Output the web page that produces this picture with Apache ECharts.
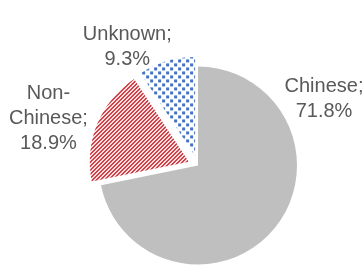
<!DOCTYPE html>
<html>
<head>
<meta charset="utf-8">
<script src="https://cdn.jsdelivr.net/npm/echarts@6/dist/echarts.min.js"></script>
<style>
html,body{margin:0;padding:0;background:#fff;}
#chart{width:364px;height:266px;}
</style>
</head>
<body>
<div id="chart"></div>
<script>
// Data
const categories = ['Chinese', 'Non-Chinese', 'Unknown'];
const values = [71.8, 18.9, 9.3];
const exploded = [false, true, true];

// Label placement (style only)
const labelPos = [
  {x: 324, y: 99},
  {x: 48, y: 107},
  {x: 145, y: 34}
];

function stripePattern() {
  const c = document.createElement('canvas');
  c.width = 8; c.height = 8;
  const g = c.getContext('2d');
  g.fillStyle = '#ffffff';
  g.fillRect(0, 0, 8, 8);
  g.fillStyle = '#C8202A';
  for (let y = 0; y < 8; y++) {
    for (let x = 0; x < 8; x++) {
      if (((x + y) % 4) < 2) g.fillRect(x, y, 1, 1);
    }
  }
  return c;
}
function dotPattern() {
  const c = document.createElement('canvas');
  c.width = 8; c.height = 8;
  const g = c.getContext('2d');
  g.fillStyle = '#ffffff';
  g.fillRect(0, 0, 8, 8);
  g.fillStyle = '#4472C4';
  g.fillRect(1, 1, 3, 3);
  g.fillRect(5, 5, 3, 3);
  return c;
}

const colors = [
  '#BFBFBF',
  {image: stripePattern(), repeat: 'repeat'},
  {image: dotPattern(), repeat: 'repeat'}
];

const chart = echarts.init(document.getElementById('chart'), null, {renderer: 'canvas'});
chart.setOption({
  animation: false,
  series: [{
    type: 'pie',
    center: [198, 165.5],
    radius: 99,
    startAngle: 90,
    clockwise: true,
    selectedMode: 'multiple',
    selectedOffset: 10,
    emphasis: {disabled: true},
    avoidLabelOverlap: false,
    itemStyle: {borderWidth: 0},
    label: {
      show: true,
      position: 'outside',
      alignTo: 'none',
      overflow: 'none',
      fontFamily: 'Liberation Sans, Arial, sans-serif',
      fontSize: 20,
      lineHeight: 25,
      color: '#595959',
      align: 'center',
      formatter: function (p) {
        return p.name.replace('-', '-\n') + ';\n' + p.value.toFixed(1) + '%';
      }
    },
    labelLine: {show: false},
    labelLayout: function (p) {
      const pos = labelPos[p.dataIndex];
      return {x: pos.x, y: pos.y, align: 'center', verticalAlign: 'middle', hideOverlap: false};
    },
    data: categories.map((n, i) => ({
      name: n,
      value: values[i],
      selected: exploded[i],
      itemStyle: {color: colors[i]}
    }))
  }]
});
</script>
</body>
</html>
